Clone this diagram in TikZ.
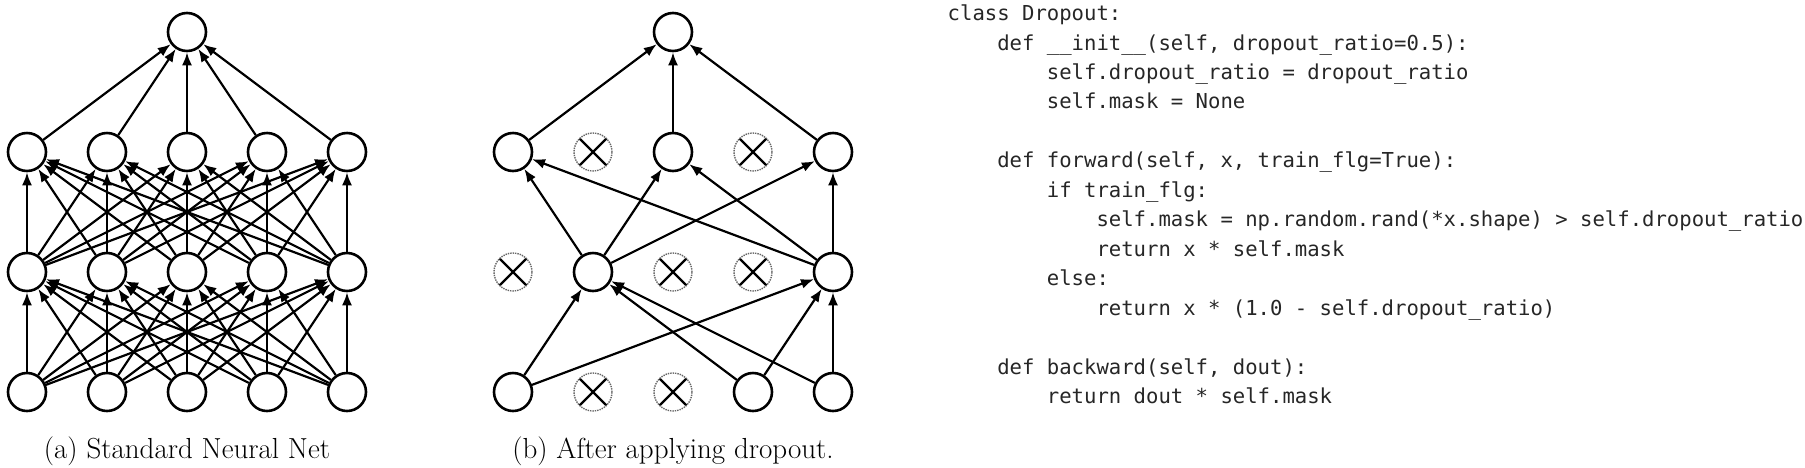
\documentclass[tikz,border=0pt]{standalone}
\usepackage{fontspec}
\newfontfamily\codefont{DejaVu Sans Mono}
\usepackage{tikz}
\usetikzlibrary{arrows.meta}
\usetikzlibrary{calc}

\tikzset{
  unit/.style={circle, draw, line width=2.6pt, minimum size=38pt, inner sep=0pt},
  dropped/.style={circle, draw=black!60, densely dotted, line width=1.4pt, minimum size=38pt, inner sep=0pt,
    path picture={\draw[solid, draw=black, line width=2.3pt]
      (path picture bounding box.north west) -- (path picture bounding box.south east)
      (path picture bounding box.north east) -- (path picture bounding box.south west);}},
  link/.style={line width=2.2pt, -{Latex[length=13pt,width=10pt]}},
  caption/.style={font=\fontsize{29}{35}\selectfont, anchor=base, inner sep=0pt},
  codeline/.style={font=\codefont\fontsize{20.6}{29.5}\selectfont, anchor=base west, inner sep=0pt, text=black!85}
}

\begin{document}
\begin{tikzpicture}[x=1pt, y=-1pt]
\useasboundingbox (0,0) rectangle (1805,467);

% (a) standard net
\foreach \i in {1,...,5} {
	\node[unit] (a1\i) at (27+80*\i-80,392) {};
	\node[unit] (a2\i) at (27+80*\i-80,272) {};
	\node[unit] (a3\i) at (27+80*\i-80,152) {};
}
\node[unit] (aout) at (187,32) {};

\foreach \i in {1,...,5} {
	\foreach \j in {1,...,5} {
		\draw[link] (a1\i) -- (a2\j);
		\draw[link] (a2\i) -- (a3\j);
	}
	\draw[link] (a3\i) -- (aout);
}

% (b) after dropout
\node[unit] (b11) at (513,392) {};
\node[dropped] (b12) at (593,392) {};
\node[dropped] (b13) at (673,392) {};
\node[unit] (b14) at (753,392) {};
\node[unit] (b15) at (833,392) {};

\node[dropped] (b21) at (513,272) {};
\node[unit] (b22) at (593,272) {};
\node[dropped] (b23) at (673,272) {};
\node[dropped] (b24) at (753,272) {};
\node[unit] (b25) at (833,272) {};

\node[unit] (b31) at (513,152) {};
\node[dropped] (b32) at (593,152) {};
\node[unit] (b33) at (673,152) {};
\node[dropped] (b34) at (753,152) {};
\node[unit] (b35) at (833,152) {};

\node[unit] (bout) at (673,32) {};

\foreach \s/\t in {b11/b22, b14/b22, b15/b22, b11/b25, b14/b25, b15/b25,
	b22/b31, b22/b33, b22/b35, b25/b31, b25/b33, b25/b35,
	b31/bout, b33/bout, b35/bout}
	\draw[link] (\s) -- (\t);

\node[caption] (capa) at (187,458) {(a) Standard Neural Net};
\node[caption] (capb) at (673,458) {(b) After applying dropout.};

% code listing
\foreach \row/\lvl/\txt in {0/0/{class Dropout:},
	1/1/{def \_\_init\_\_(self, dropout\_ratio=0.5):},
	2/2/{self.dropout\_ratio = dropout\_ratio},
	3/2/{self.mask = None},
	5/1/{def forward(self, x, train\_flg=True):},
	6/2/{if train\_flg:},
	7/3/{self.mask = np.random.rand(*x.shape) > self.dropout\_ratio},
	8/3/{return x * self.mask},
	9/2/{else:},
	10/3/{return x * (1.0 - self.dropout\_ratio)},
	12/1/{def backward(self, dout):},
	13/2/{return dout * self.mask}}
	\node[codeline] (code\row) at (947.5+49.6*\lvl, 20.6+29.46*\row) {\txt};
\end{tikzpicture}
\end{document}
